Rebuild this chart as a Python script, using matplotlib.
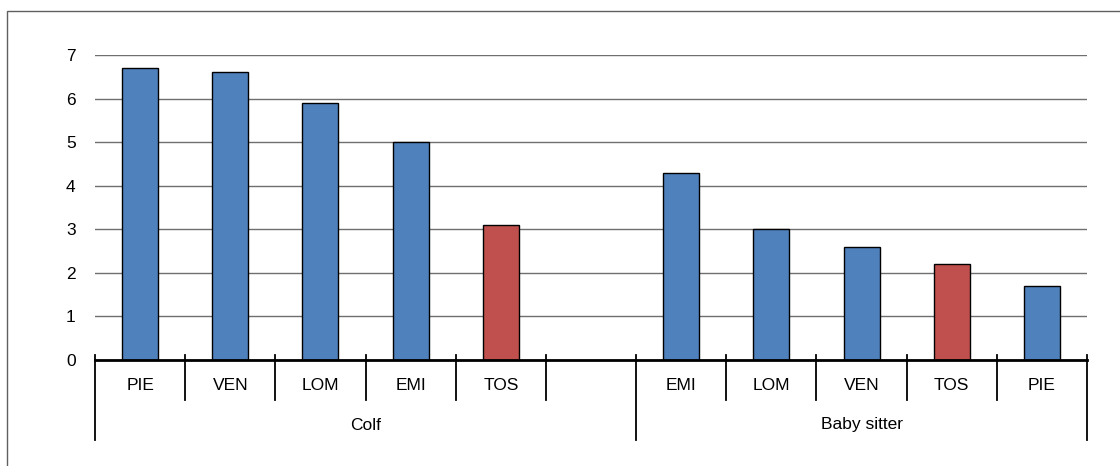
import matplotlib
matplotlib.use("Agg")
import matplotlib.pyplot as plt
from matplotlib.patches import Rectangle
import matplotlib.transforms as mtransforms

plt.rcParams['font.family'] = ['Liberation Sans', 'DejaVu Sans']

# regions per sector (empty slot separates the two groups)
regions = ["PIE", "VEN", "LOM", "EMI", "TOS", "", "EMI", "LOM", "VEN", "TOS", "PIE"]
values = [6.7, 6.6, 5.9, 5.0, 3.1, None, 4.3, 3.0, 2.6, 2.2, 1.7]
groups = ["Colf", "Baby sitter"]
group_span = [(0, 6), (6, 11)]
highlight = "TOS"

W, H = 1120, 466
fig = plt.figure(figsize=(W / 100, H / 100), dpi=100)
x0, x1, y0, y1 = 95, 1087, 360, 55
ax = fig.add_axes([x0 / W, (H - y0) / H, (x1 - x0) / W, (y0 - y1) / H])

# a. bars
for i, (lab, v) in enumerate(zip(regions, values)):
    if v is None:
        continue
    col = "#C0504D" if lab == highlight else "#4F81BD"
    ax.bar(i + 0.5, v, width=0.4, color=col, edgecolor="black", linewidth=1, zorder=3)

# b. axes styling
ax.set_xlim(0, len(regions))
ax.set_ylim(0, 7)
ax.set_yticks(range(0, 8))
ax.yaxis.grid(True, color="#6f6f6f", linewidth=1)
ax.set_axisbelow(True)
for s in ["top", "right", "left"]:
    ax.spines[s].set_visible(False)
ax.spines["bottom"].set_linewidth(2)
ax.spines["bottom"].set_zorder(4)
ax.tick_params(axis="y", length=0, pad=14, labelsize=12.5)
ax.set_xticks([])

# c. category labels and dividers below the axis
ph = y0 - y1
trans = mtransforms.blended_transform_factory(ax.transData, ax.transAxes)
for i, lab in enumerate(regions):
    ax.text(i + 0.5, -25 / ph, lab, transform=trans, ha="center", va="center",
            fontsize=12.5, clip_on=False)
outer = {a for a, b in group_span} | {b for a, b in group_span}
for k in range(len(regions) + 1):
    low = -80 / ph if k in outer else -40 / ph
    ax.plot([k, k], [5 / ph, low], transform=trans, color="black",
            linewidth=1.3, clip_on=False, zorder=5)

# d. group labels
for g, (a, b) in zip(groups, group_span):
    ax.text((a + b) / 2, -65 / ph, g, transform=trans, ha="center", va="center",
            fontsize=12.5, clip_on=False)

# e. outer frame
fig.add_artist(Rectangle((7 / W, -0.05), 1.1, (H - 11) / H + 0.05,
                         transform=fig.transFigure, fill=False,
                         edgecolor="#606060", linewidth=1))

fig.savefig("out.png", dpi=100)
